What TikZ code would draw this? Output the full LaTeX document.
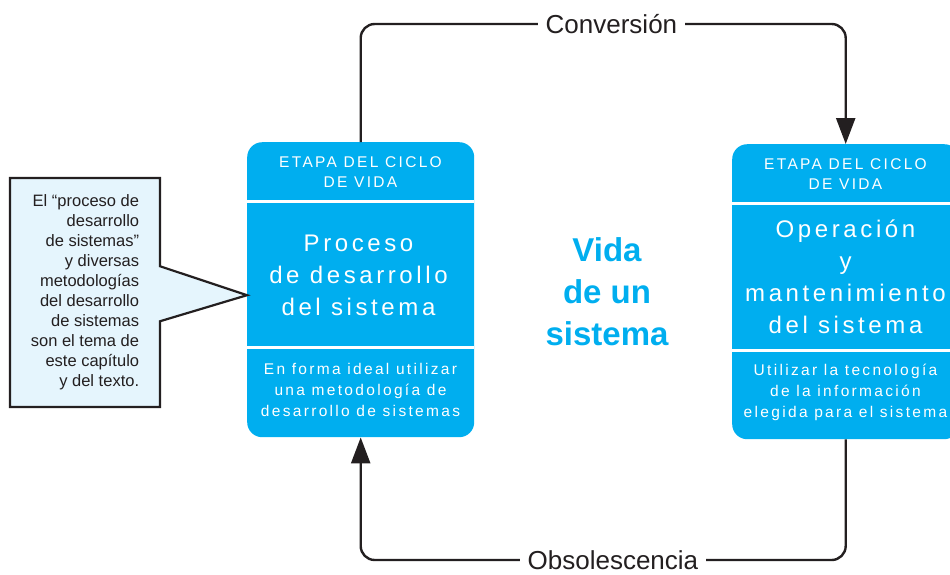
\documentclass[tikz,border=0pt]{standalone}
\usepackage{fontspec}
\setmainfont{Liberation Sans}
\newfontfamily\spacedfont[LetterSpace=15]{Liberation Sans}
\usepackage{tikz}
\usetikzlibrary{positioning, arrows.meta, shapes.callouts}
\definecolor{vidablue}{RGB}{0,174,239}
\definecolor{notefill}{RGB}{229,245,253}
\definecolor{linegray}{RGB}{35,31,32}

\begin{document}
\begin{tikzpicture}[x=1pt,y=-1pt,
		stage/.style={fill=vidablue, rounded corners=15pt, minimum width=227pt, minimum height=295pt, inner sep=0pt, anchor=north west},
		headtext/.style={white, align=center, font=\spacedfont\fontsize{15.5}{20}\selectfont},
		titletext/.style={white, align=center, font=\spacedfont\fontsize{24}{32}\selectfont},
		desctext/.style={white, align=center, font=\spacedfont\fontsize{15.5}{21}\selectfont},
		divider/.style={white, line width=3pt},
		flow/.style={linegray, line width=2.4pt, rounded corners=14pt, -{Triangle[length=26pt,width=19pt]}},
		flowlabel/.style={fill=white, rounded corners=0pt, inner xsep=8pt, inner ysep=0pt, font=\fontsize{26}{30}\selectfont, text=linegray}]
	\useasboundingbox (0,0) rectangle (950,574);
	
	%----------------------------------------------------------------
	\node(dev) [stage] at (247,142) {};
	\draw [divider] (dev.west |- 0,201) -- (dev.east |- 0,201);
	\draw [divider] (dev.west |- 0,347) -- (dev.east |- 0,347);
	\node(devhead) [headtext] at (360.5,172) {ETAPA DEL CICLO\\DE VIDA};
	\node(devtitle) [titletext] at (358.5,275) {Proceso\\de desarrollo\\del sistema};
	\node(devdesc) [desctext] at (360.5,390) {En forma ideal utilizar\\una metodología de\\desarrollo de sistemas};
	
	%----------------------------------------------------------------
	\node(op) [stage] at (732,144) {};
	\draw [divider] (op.west |- 0,203) -- (op.east |- 0,203);
	\draw [divider] (op.west |- 0,350) -- (op.east |- 0,350);
	\node(ophead) [headtext] at (845.5,174) {ETAPA DEL CICLO\\DE VIDA};
	\node(optitle) [titletext] at (845.5,277) {Operación\\y\\mantenimiento\\del sistema};
	\node(opdesc) [desctext] at (845.5,392) {Utilizar la tecnología\\de la información\\elegida para el sistema};
	
	%----------------------------------------------------------------
	\node(vida) [vidablue, align=center, font=\bfseries\fontsize{33}{42}\selectfont] at (607,292) {Vida\\de un\\sistema};
	
	\node(note) [rectangle callout, draw=linegray, line width=2.2pt, fill=notefill,
		minimum width=150pt, minimum height=229pt, align=right, text=linegray,
		font=\fontsize{16.5}{20}\selectfont,
		callout absolute pointer={([yshift=-5.5pt]dev.west)}, callout pointer width=55pt]
		at (85,292.5) {El “proceso de\\desarrollo\\de sistemas”\\y diversas\\metodologías\\del desarrollo\\de sistemas\\son el tema de\\este capítulo\\y del texto.};
	
	%----------------------------------------------------------------
	\draw [flow] (dev.north) -- (dev.north |- 0,24)
		-- node[flowlabel, pos=0.517] {Conversión} (op.north |- 0,24) -- (op.north);
	\draw [flow] (op.south) -- (op.south |- 0,560)
		-- node[flowlabel, pos=0.48] {Obsolescencia} (dev.south |- 0,560) -- (dev.south);
	
\end{tikzpicture}
\end{document}
